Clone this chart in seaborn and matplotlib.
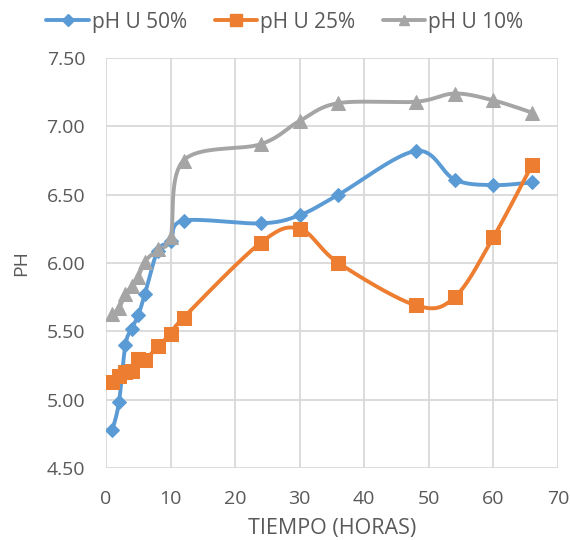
import numpy as np
import pandas as pd
import matplotlib
matplotlib.use("Agg")
import matplotlib.pyplot as plt
import seaborn as sns

# Hours of sampling
horas = [1, 2, 3, 4, 5, 6, 8, 10, 12, 24, 30, 36, 48, 54, 60, 66]

# pH readings per treatment
ph_u50 = [4.78, 4.98, 5.40, 5.52, 5.62, 5.77, 6.09, 6.16, 6.31, 6.29, 6.35, 6.50, 6.82, 6.61, 6.57, 6.59]
ph_u25 = [5.13, 5.17, 5.20, 5.21, 5.30, 5.29, 5.39, 5.48, 5.60, 6.15, 6.25, 6.00, 5.69, 5.75, 6.19, 6.72]
ph_u10 = [5.63, 5.67, 5.77, 5.83, 5.90, 6.01, 6.10, 6.19, 6.75, 6.87, 7.04, 7.17, 7.18, 7.24, 7.19, 7.10]

series_names = ["pH U 50%", "pH U 25%", "pH U 10%"]
colors = ["#5B9BD5", "#ED7D31", "#A5A5A5"]
markers = ["D", "s", "^"]
marker_sizes = [7.5, 10, 9.5]


def smooth_curve(x, y, n=40):
    """Piecewise cubic Bezier through the points (Catmull-Rom style tangents)."""
    x = np.asarray(x, float)
    y = np.asarray(y, float)
    xs, ys = [], []
    t = np.linspace(0, 1, n)
    for i in range(len(x) - 1):
        p0 = np.array([x[i - 1], y[i - 1]]) if i > 0 else np.array([x[i], y[i]])
        p1 = np.array([x[i], y[i]])
        p2 = np.array([x[i + 1], y[i + 1]])
        p3 = np.array([x[i + 2], y[i + 2]]) if i + 2 < len(x) else p2
        c1 = p1 + (p2 - p0) / 6.0
        c2 = p2 - (p3 - p1) / 6.0
        b = ((1 - t) ** 3)[:, None] * p1 + (3 * (1 - t) ** 2 * t)[:, None] * c1 \
            + (3 * (1 - t) * t ** 2)[:, None] * c2 + (t ** 3)[:, None] * p2
        xs.extend(b[:, 0])
        ys.extend(b[:, 1])
    return np.array(xs), np.array(ys)


sns.set_theme(style="white")
plt.rcParams["font.family"] = ["Open Sans", "DejaVu Sans"]

fig = plt.figure(figsize=(5.7, 5.4), dpi=100)
ax = fig.add_axes([0.186, 0.1333, 0.793, 0.7593])

text_color = "#595959"
grid_color = "#D9D9D9"

data = pd.DataFrame({"horas": horas, "pH U 50%": ph_u50, "pH U 25%": ph_u25, "pH U 10%": ph_u10})

handles = []
for name, col, mk, ms in zip(series_names, colors, markers, marker_sizes):
    sx, sy = smooth_curve(data["horas"], data[name])
    sns.lineplot(x=sx, y=sy, ax=ax, color=col, linewidth=2.8, sort=False, zorder=3)
    sns.lineplot(x=data["horas"], y=data[name], ax=ax, color=col, linestyle="none",
                 marker=mk, markersize=ms, markeredgecolor=col, zorder=4)
    handles.append(plt.Line2D([], [], color=col, linewidth=2.8, marker=mk,
                              markersize=ms * 0.8, markeredgecolor=col, label=name))

ax.set_xlim(0, 70)
ax.set_ylim(4.5, 7.5)
ax.set_xticks(range(0, 71, 10))
ax.set_yticks(np.arange(4.5, 7.51, 0.5))
ax.set_yticklabels([f"{v:.2f}" for v in np.arange(4.5, 7.51, 0.5)])
ax.grid(True, color=grid_color, linewidth=1.3)
ax.set_axisbelow(True)
for s in ax.spines.values():
    s.set_visible(False)
ax.tick_params(axis="y", length=0, labelsize=14, labelcolor=text_color, pad=15)
ax.tick_params(axis="x", length=0, labelsize=14, labelcolor=text_color, pad=16)

ax.set_xlabel("TIEMPO (HORAS)", fontsize=15.5, color=text_color, labelpad=7)
ax.set_ylabel("PH", fontsize=14, color=text_color, labelpad=12)

fig.legend(handles=handles, loc="upper center", bbox_to_anchor=(0.5, 1.013), ncol=3,
           frameon=False, fontsize=15, labelcolor=text_color, handlelength=2.05,
           handletextpad=0.15, columnspacing=1.3)

fig.savefig("out.png", dpi=100)
